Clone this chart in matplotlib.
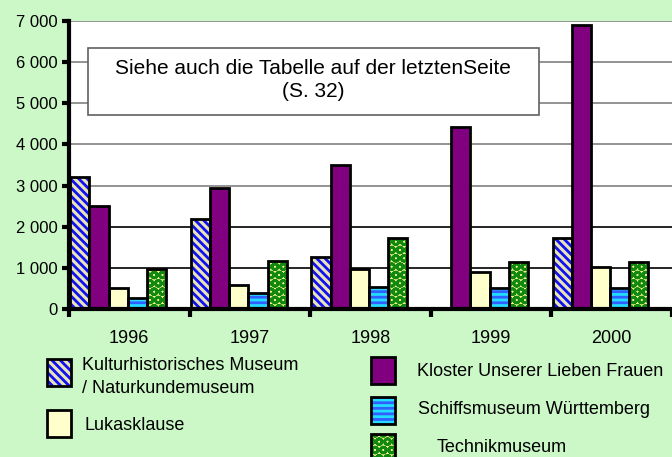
import matplotlib
matplotlib.use("Agg")
import matplotlib.pyplot as plt
from matplotlib.patches import Rectangle
from matplotlib.ticker import FuncFormatter, FixedLocator
import numpy as np

plt.rcParams['font.family'] = ['Liberation Sans', 'DejaVu Sans']
plt.rcParams['hatch.linewidth'] = 2.0

years = ['1996', '1997', '1998', '1999', '2000']
series_names = ['Kulturhistorisches Museum\n/ Naturkundemuseum',
                'Kloster Unserer Lieben Frauen',
                'Lukasklause',
                'Schiffsmuseum Württemberg',
                'Technikmuseum']
kultur = [3200, 2190, 1270, 0, 1730]
kloster = [2500, 2950, 3500, 4430, 6900]
lukas = [510, 590, 980, 900, 1010]
schiff = [270, 390, 540, 520, 510]
technik = [970, 1160, 1720, 1150, 1140]
values = [kultur, kloster, lukas, schiff, technik]

face = ['#E8E4B8', '#800080', '#FFFFCC', '#22DDFF', '#F4F488']
hatchc = ['#1010F0', '#800080', '#FFFFCC', '#3060FF', '#118811']
hatches = ['\\\\\\\\', None, None, '---', 'OO']

BG = '#CCF8C8'
W, H = 672, 457
fig = plt.figure(figsize=(W / 100, H / 100), dpi=100, facecolor=BG)

def fx(px):
    return px / W

def fy(py):
    return 1 - py / H

ax = fig.add_axes([fx(69), fy(309), fx(672) - fx(69), fy(21) - fy(309)])
ax.set_facecolor('white')

x = np.arange(len(years))
bw = 0.159
for k, vals in enumerate(values):
    pos = x - 0.49 + bw / 2 + k * bw
    ax.bar(pos, vals, width=bw, color=face[k], edgecolor=hatchc[k],
           hatch=hatches[k], linewidth=0, zorder=3)
    ax.bar(pos, vals, width=bw, fill=False, edgecolor='black',
           linewidth=2.0, zorder=4)

ax.set_xlim(-0.5, -0.5 + 603 / 122.5)
ax.set_ylim(0, 7000)

for yv in range(1000, 8000, 1000):
    c = 'black' if yv <= 2000 else '#808080'
    ax.axhline(yv, color=c, linewidth=1.2, zorder=1)

ax.spines['top'].set_visible(False)
ax.spines['right'].set_visible(False)
ax.spines['left'].set_linewidth(3)
ax.spines['bottom'].set_linewidth(3)
ax.spines['left'].set_zorder(5)
ax.spines['bottom'].set_zorder(5)

ax.yaxis.set_major_locator(FixedLocator(range(0, 8000, 1000)))
ax.yaxis.set_major_formatter(FuncFormatter(lambda v, p: f"{int(v):,}".replace(',', ' ')))
ax.tick_params(axis='y', direction='out', length=5, width=3, labelsize=12, pad=3)

ax.set_xticks(x)
ax.set_xticklabels(years)
ax.tick_params(axis='x', which='major', length=0, labelsize=13, pad=15)
ax.set_xticks(np.arange(-0.5, 5, 1.0), minor=True)
ax.tick_params(axis='x', which='minor', direction='out', length=6, width=3)

# Note box
rect = Rectangle((fx(88), fy(115)), fx(539) - fx(88), fy(48) - fy(115),
                 transform=fig.transFigure, facecolor='white',
                 edgecolor='#606060', linewidth=1.2, zorder=10)
fig.patches.append(rect)
fig.text(fx(313), fy(80), 'Siehe auch die Tabelle auf der letztenSeite\n(S. 32)',
         ha='center', va='center', fontsize=15, linespacing=1.3, zorder=11)

# Legend (manual)
leg = [
    (0, (47, 359), (82, 377)),
    (1, (371, 357), (417, 372)),
    (2, (47, 410), (85, 425)),
    (3, (371, 397), (418, 410)),
    (4, (371, 434), (437, 447)),
]
for k, (sx, sy), (tx, ty) in leg:
    w, h = 24, 27
    r = Rectangle((fx(sx), fy(sy + h)), fx(sx + w) - fx(sx), fy(sy) - fy(sy + h),
                  transform=fig.transFigure, facecolor=face[k],
                  edgecolor=hatchc[k], hatch=hatches[k], linewidth=0, zorder=10)
    fig.patches.append(r)
    r2 = Rectangle((fx(sx), fy(sy + h)), fx(sx + w) - fx(sx), fy(sy) - fy(sy + h),
                   transform=fig.transFigure, fill=False,
                   edgecolor='black', linewidth=2.0, zorder=11)
    fig.patches.append(r2)
    fig.text(fx(tx), fy(ty), series_names[k], ha='left', va='center',
             fontsize=13, linespacing=1.4)

fig.savefig('out.png', dpi=100, facecolor=BG)
